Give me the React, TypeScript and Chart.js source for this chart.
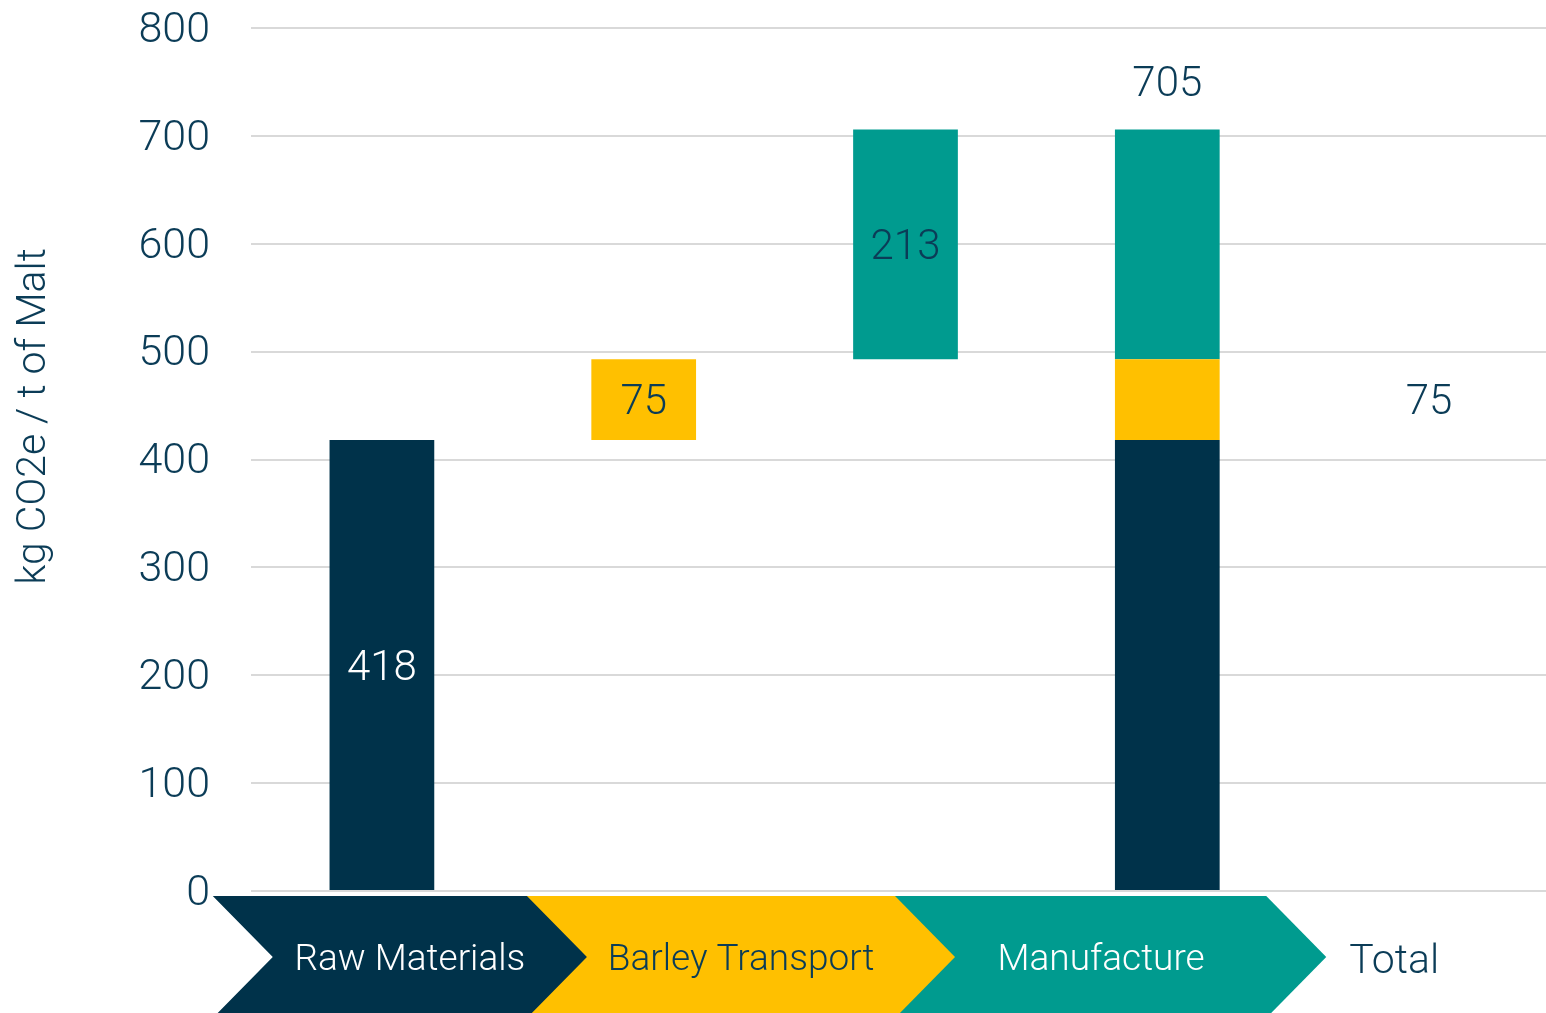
import React, { useEffect, useRef } from "react";
import { Chart, registerables } from "chart.js";

Chart.register(...registerables);

// ---- data ----
const categories = ["Raw Materials", "Barley Transport", "Manufacture", "Total", ""];
const stageNames = ["Raw Materials", "Barley Transport", "Manufacture"];
const stageValues = [418, 75, 213];
const totalValue = 705;
const totalIndex = 3;
const ghostIndex = 4; // stray "75" label in the last slot
const ghostStage = 1;
const yMin = 0;
const yMax = 800;
const yStep = 100;
const yAxisTitle = "kg CO2e / t of Malt";
const chevronLabels = ["Raw Materials", "Barley Transport", "Manufacture", "Total"];
// chevron boundaries / text centres in category units
const chevronEdges = [-0.646, 0.554, 1.96, 3.378];
const chevronTextCenters = [0.107, 1.372, 2.747, 3.867];

// ---- styles ----
const NAVY = "#00324A";
const YELLOW = "#FFC000";
const TEAL = "#009B8F";
const TEXT = "#0B3C57";
const GRID = "#D9D9D9";
const FONT = "Roboto, 'Liberation Sans', sans-serif";
const stageColors = [NAVY, YELLOW, TEAL];
const chevronFill = [NAVY, YELLOW, TEAL];
const chevronText = ["#FFFFFF", TEXT, "#FFFFFF", TEXT];
const stageLabelColors = ["#FFFFFF", TEXT, TEXT];

function buildDatasets() {
  const starts: number[] = [];
  let acc = 0;
  stageValues.forEach((v) => {
    starts.push(acc);
    acc += v;
  });
  return stageNames.map((name, s) => {
    const range = [starts[s], starts[s] + stageValues[s]];
    const data = categories.map((_, i) => {
      if (i === s || i === totalIndex) return range;
      if (s === ghostStage && i === ghostIndex) return range;
      return null;
    });
    const bg = categories.map((_, i) =>
      s === ghostStage && i === ghostIndex ? "rgba(0,0,0,0)" : stageColors[s]
    );
    return {
      label: name,
      data,
      backgroundColor: bg,
      borderWidth: 0,
      barPercentage: 0.4,
      categoryPercentage: 1,
    };
  });
}

const labelPlugin = {
  id: "valueLabels",
  afterDatasetsDraw(chart: any) {
    const ctx = chart.ctx;
    ctx.save();
    ctx.font = `300 42px ${FONT}`;
    ctx.textAlign = "center";
    ctx.textBaseline = "middle";
    const dy = 4;
    stageNames.forEach((_, s) => {
      const meta = chart.getDatasetMeta(s);
      const idxs = [s];
      if (s === ghostStage) idxs.push(ghostIndex);
      idxs.forEach((i) => {
        const el = meta.data[i];
        if (!el) return;
        const cy = (el.y + el.base) / 2;
        ctx.fillStyle = i === s ? stageLabelColors[s] : TEXT;
        ctx.fillText(String(stageValues[s]), el.x, cy + dy);
      });
    });
    // total label above the stacked bar
    const topMeta = chart.getDatasetMeta(stageNames.length - 1);
    const tel = topMeta.data[totalIndex];
    if (tel) {
      ctx.fillStyle = TEXT;
      ctx.fillText(String(totalValue), tel.x, tel.y - 48 + dy);
    }
    ctx.restore();
  },
};

const decorPlugin = {
  id: "decor",
  afterDraw(chart: any) {
    const ctx = chart.ctx;
    const area = chart.chartArea;
    const x = chart.scales.x;
    const unit = x.getPixelForValue(1) - x.getPixelForValue(0);
    const x0 = x.getPixelForValue(0);
    const px = (u: number) => x0 + u * unit;
    const top = area.bottom + 5;
    const half = 61;
    const mid = top + half;
    const bot = top + 2 * half;
    const tip = 60;
    ctx.save();
    // draw from last to first so earlier chevron points overlay later ones
    for (let i = chevronFill.length - 1; i >= 0; i--) {
      const l = px(chevronEdges[i]);
      const r = px(chevronEdges[i + 1]);
      ctx.beginPath();
      ctx.moveTo(l, top);
      ctx.lineTo(r, top);
      ctx.lineTo(r + tip, mid);
      ctx.lineTo(r, bot);
      ctx.lineTo(l, bot);
      if (i === 0) ctx.lineTo(l + tip, mid);
      ctx.closePath();
      ctx.fillStyle = chevronFill[i];
      ctx.fill();
    }
    ctx.textAlign = "center";
    ctx.textBaseline = "middle";
    chevronLabels.forEach((t, i) => {
      const isTotal = i === chevronLabels.length - 1;
      ctx.font = `300 ${isTotal ? 41 : 37}px ${FONT}`;
      ctx.fillStyle = chevronText[i];
      ctx.fillText(t, px(chevronTextCenters[i]), mid + (isTotal ? 6 : 4));
    });
    // y-axis title
    ctx.translate(35, area.top + area.height * 0.45);
    ctx.rotate(-Math.PI / 2);
    ctx.font = `300 41px ${FONT}`;
    ctx.fillStyle = TEXT;
    ctx.fillText(yAxisTitle, 0, 0);
    ctx.restore();
  },
};

export default function App() {
  const ref = useRef<HTMLCanvasElement>(null);
  useEffect(() => {
    if (!ref.current) return;
    const chart = new Chart(ref.current, {
      type: "bar",
      data: { labels: categories, datasets: buildDatasets() as any },
      options: {
        responsive: false,
        animation: false,
        layout: { padding: { top: 28, bottom: 122, left: 0, right: 0 } },
        plugins: { legend: { display: false }, tooltip: { enabled: false } },
        scales: {
          x: { stacked: true, display: false },
          y: {
            stacked: false,
            min: yMin,
            max: yMax,
            afterFit: (s: any) => {
              s.width = 251;
              s.paddingTop = 0;
              s.paddingBottom = 0;
            },
            ticks: {
              stepSize: yStep,
              padding: 41,
              labelOffset: 3,
              color: TEXT,
              font: { family: FONT, size: 43, weight: "300" as any },
            },
            grid: { color: GRID, lineWidth: 2, drawTicks: false },
            border: { display: false },
          },
        },
      },
      plugins: [labelPlugin, decorPlugin],
    });
    return () => chart.destroy();
  }, []);
  return (
    <div
      style={{
        position: "fixed",
        left: 0,
        top: 0,
        width: 1546,
        height: 1013,
        overflow: "hidden",
        background: "#fff",
      }}
    >
      <canvas ref={ref} width={1560} height={1013} style={{ display: "block" }} />
    </div>
  );
}
